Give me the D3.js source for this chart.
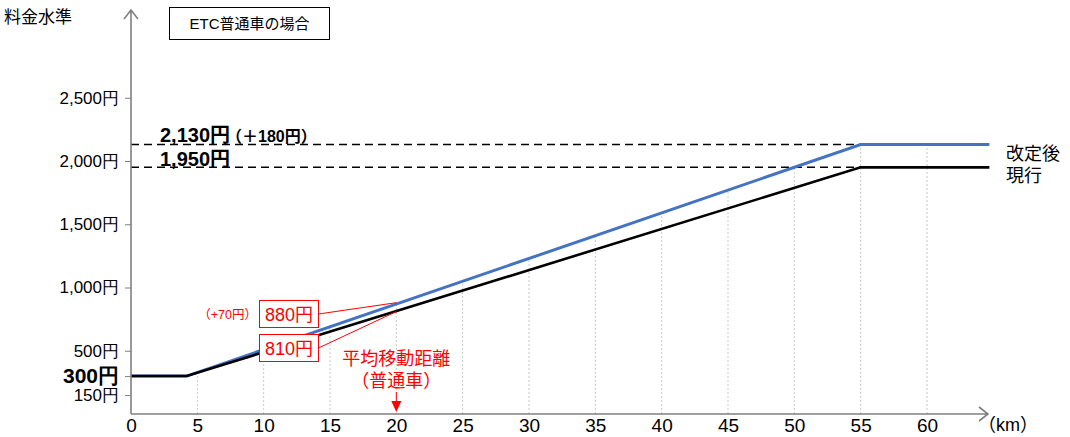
<!DOCTYPE html>
<html>
<head>
<meta charset="utf-8">
<script src="https://cdn.jsdelivr.net/npm/d3@7"></script>
<style>
  body { margin: 0; background: #fff; }
  svg { font-family: "Liberation Sans", "Noto Sans CJK JP", sans-serif; }
</style>
</head>
<body>
<div class="chart"></div>
<script>
// distance (km) and fee (yen) break points
var distKm = [0, 4.2, 55, 64.7];
var feeCurrent = [300, 300, 1950, 1950];
var feeRevised = [300, 300, 2130, 2130];

var xTicks = [0, 5, 10, 15, 20, 25, 30, 35, 40, 45, 50, 55, 60];
var yTicks = [150, 300, 500, 1000, 1500, 2000, 2500];

// average trip (普通車)
var avgKm = 20;
var avgCurrent = 810;
var avgRevised = 880;
var avgDiff = 70;

var svgWidth = 1070;
var svgHeight = 437;

var svg = d3.select(".chart")
  .append("svg")
  .attr("width", svgWidth)
  .attr("height", svgHeight);

// scales
var xScale = d3.scaleLinear().domain([0, 60]).range([131, 927]);
var yScale = d3.scaleLinear().domain([0, 2500]).range([414, 97.75]);
var axisY = yScale(0);

var revised = distKm.map((d, i) => ({ km: d, fee: feeRevised[i] }));
var current = distKm.map((d, i) => ({ km: d, fee: feeCurrent[i] }));

// clip so grid lines stop at the revised line
svg.append("clipPath")
  .attr("id", "under")
  .append("path")
  .datum(revised)
  .attr("d", d3.area()
    .x(d => xScale(d.km))
    .y0(axisY)
    .y1(d => yScale(d.fee)));

// vertical dotted grid
svg.append("g")
  .attr("clip-path", "url(#under)")
  .selectAll("line")
  .data(xTicks.filter(d => d > 0))
  .enter()
  .append("line")
  .attr("x1", d => xScale(d))
  .attr("x2", d => xScale(d))
  .attr("y1", axisY)
  .attr("y2", 0)
  .attr("stroke", "#c8c8c8")
  .attr("stroke-width", 1)
  .attr("stroke-dasharray", "2,2");

// dashed reference lines to the top fee
[feeRevised[2], feeCurrent[2]].forEach(function(v) {
  svg.append("line")
    .attr("x1", xScale(0))
    .attr("x2", xScale(distKm[2]))
    .attr("y1", yScale(v))
    .attr("y2", yScale(v))
    .attr("stroke", "#000")
    .attr("stroke-width", 1.5)
    .attr("stroke-dasharray", "8,5");
});

var line = d3.line()
  .x(d => xScale(d.km))
  .y(d => yScale(d.fee));

svg.append("path")
  .datum(revised)
  .attr("d", line)
  .attr("fill", "none")
  .attr("stroke", "#4472C4")
  .attr("stroke-width", 3);

svg.append("path")
  .datum(current)
  .attr("d", line)
  .attr("fill", "none")
  .attr("stroke", "#000")
  .attr("stroke-width", 2.6);

// axes
var yAxis = d3.axisLeft(yScale)
  .tickValues(yTicks)
  .tickSize(6)
  .tickPadding(6)
  .tickFormat(d => d3.format(",")(d) + "円");

var yg = svg.append("g")
  .attr("transform", `translate(${xScale(0)},0)`)
  .call(yAxis);
yg.select(".domain").remove();
yg.selectAll(".tick line").attr("stroke", "#808080");
yg.selectAll(".tick text")
  .attr("fill", "#000")
  .style("font-size", d => d === 300 ? "21px" : "17px")
  .style("font-weight", d => d === 300 ? "bold" : "normal");

var xAxis = d3.axisBottom(xScale)
  .tickValues(xTicks)
  .tickSize(0)
  .tickPadding(5);

var xg = svg.append("g")
  .attr("transform", `translate(0,${axisY})`)
  .call(xAxis);
xg.select(".domain").remove();
xg.selectAll(".tick text")
  .attr("fill", "#000")
  .style("font-size", "19px");

// axis lines with open arrow heads
var axisColor = "#808080";
svg.append("path")
  .attr("d", `M${xScale(0)},${axisY}V10M${xScale(0) - 7},19L${xScale(0)},10L${xScale(0) + 7},19`)
  .attr("fill", "none")
  .attr("stroke", axisColor)
  .attr("stroke-width", 1.6);

svg.append("path")
  .attr("d", `M${xScale(0)},${axisY}H988M979,${axisY - 7}L988,${axisY}L979,${axisY + 7}`)
  .attr("fill", "none")
  .attr("stroke", axisColor)
  .attr("stroke-width", 1.6);

svg.append("text")
  .attr("x", 978)
  .attr("y", 431)
  .style("font-size", "18px")
  .text("（km）");

svg.append("text")
  .attr("x", 4)
  .attr("y", 23)
  .style("font-size", "17px")
  .text("料金水準");

// title box
svg.append("rect")
  .attr("x", 169.5)
  .attr("y", 7.5)
  .attr("width", 160)
  .attr("height", 32)
  .attr("fill", "#fff")
  .attr("stroke", "#000")
  .attr("stroke-width", 1);
svg.append("text")
  .attr("x", 249.5)
  .attr("y", 29)
  .attr("text-anchor", "middle")
  .style("font-size", "15px")
  .text("ETC普通車の場合");

// top fee labels
var topRev = svg.append("text")
  .attr("x", 160)
  .attr("y", yScale(feeRevised[2]) - 3)
  .style("font-weight", "bold");
topRev.append("tspan").style("font-size", "20px").text(d3.format(",")(feeRevised[2]) + "円");
topRev.append("tspan").style("font-size", "16px").attr("dx", -4)
  .text("（＋" + (feeRevised[2] - feeCurrent[2]) + "円）");

svg.append("text")
  .attr("x", 160)
  .attr("y", yScale(feeCurrent[2]) - 1)
  .style("font-weight", "bold")
  .style("font-size", "20px")
  .text(d3.format(",")(feeCurrent[2]) + "円");

// series labels on the right
svg.append("text")
  .attr("x", 1006)
  .attr("y", yScale(feeRevised[2]) + 15)
  .style("font-size", "18px")
  .text("改定後");
svg.append("text")
  .attr("x", 1006)
  .attr("y", yScale(feeCurrent[2]) + 15)
  .style("font-size", "18px")
  .text("現行");

// average trip annotation
var red = "#ff0000";
var boxX = 259.5;
var boxW = 59;
var boxH = 27;
var boxes = [
  { v: avgRevised, top: 300.5 },
  { v: avgCurrent, top: 334.5 }
];

boxes.forEach(function(b) {
  svg.append("line")
    .attr("x1", boxX + boxW)
    .attr("y1", b.top + boxH / 2)
    .attr("x2", xScale(avgKm))
    .attr("y2", yScale(b.v))
    .attr("stroke", red)
    .attr("stroke-width", 1);
  svg.append("rect")
    .attr("x", boxX)
    .attr("y", b.top)
    .attr("width", boxW)
    .attr("height", boxH)
    .attr("fill", "#fff")
    .attr("stroke", red)
    .attr("stroke-width", 1);
  svg.append("text")
    .attr("x", boxX + boxW / 2)
    .attr("y", b.top + 20)
    .attr("text-anchor", "middle")
    .attr("fill", red)
    .style("font-size", "18px")
    .text(b.v + "円");
});

svg.append("text")
  .attr("x", 257)
  .attr("y", 319)
  .attr("text-anchor", "end")
  .attr("fill", red)
  .style("font-size", "12.5px")
  .text("（+" + avgDiff + "円）");

svg.append("text")
  .attr("x", xScale(avgKm))
  .attr("y", 365)
  .attr("text-anchor", "middle")
  .attr("fill", red)
  .style("font-size", "18px")
  .text("平均移動距離");
svg.append("text")
  .attr("x", xScale(avgKm))
  .attr("y", 387)
  .attr("text-anchor", "middle")
  .attr("fill", red)
  .style("font-size", "18px")
  .text("（普通車）");

var ax = xScale(avgKm);
svg.append("line")
  .attr("x1", ax).attr("x2", ax)
  .attr("y1", 392).attr("y2", 402)
  .attr("stroke", red)
  .attr("stroke-width", 1);
svg.append("path")
  .attr("d", `M${ax - 5},401L${ax + 5},401L${ax},412Z`)
  .attr("fill", red);
</script>
</body>
</html>
